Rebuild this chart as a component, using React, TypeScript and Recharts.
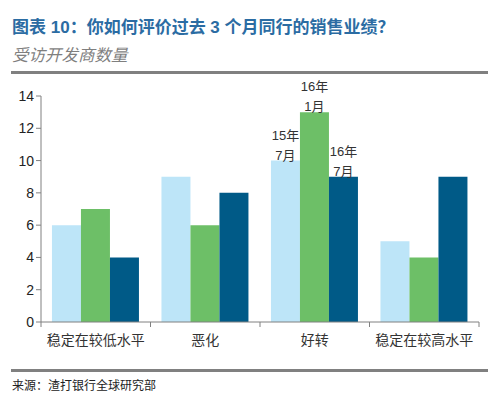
import React from 'react';
import { Bar, BarChart, LabelList, XAxis, YAxis } from 'recharts';

const categories = ['稳定在较低水平', '恶化', '好转', '稳定在较高水平'];
const seriesNames = ['15年7月', '16年1月', '16年7月'];
const jul15 = [6, 9, 10, 5];
const jan16 = [7, 6, 13, 4];
const jul16 = [4, 8, 9, 9];
const yTicks = [0, 2, 4, 6, 8, 10, 12, 14];
const labelledCategory = '好转';

const data = categories.map((name, i) => ({ name, s0: jul15[i], s1: jan16[i], s2: jul16[i] }));

const colors = ['#BDE5F8', '#6DBF67', '#005A87'];
const axisColor = '#808080';
const font = '"Liberation Sans", Arial, "Noto Sans CJK SC", sans-serif';

const XTick = (props: any) => {
  const { x, y, payload, index } = props;
  const half = payload.offset || 0;
  return (
    <g>
      <line x1={x - half} y1={y - 8} x2={x - half} y2={y - 3} stroke={axisColor} />
      {index === categories.length - 1 && (
        <line x1={x + half} y1={y - 8} x2={x + half} y2={y - 3} stroke={axisColor} />
      )}
      <text x={x} y={y + 15} textAnchor="middle" fontSize={14} fill="#333" fontFamily={font}>
        {payload.value}
      </text>
    </g>
  );
};

const makeLabel = (seriesIdx: number) => (props: any) => {
  const { x, y, width, index } = props;
  if (categories[index] !== labelledCategory) return null;
  const name = seriesNames[seriesIdx];
  const [yr, mo] = [name.slice(0, 3), name.slice(3)];
  const cx = x + width / 2;
  return (
    <text x={cx} textAnchor="middle" fontSize={13} fill="#333" fontFamily={font}>
      <tspan x={cx} y={y - 21}>{yr}</tspan>
      <tspan x={cx} y={y - 1}>{mo}</tspan>
    </text>
  );
};

const App: React.FC = () => (
  <div style={{ position: 'absolute', left: 0, top: 0, width: 495, height: 401, background: '#fff', fontFamily: font }}>
    <div style={{ position: 'absolute', left: 12, top: 13, fontSize: 17, fontWeight: 'bold', color: '#2B6CA3', whiteSpace: 'nowrap' }}>
      图表 10：你如何评价过去 3 个月同行的销售业绩？
    </div>
    <div style={{ position: 'absolute', left: 12, top: 42, fontSize: 16.5, fontStyle: 'italic', color: '#7F7F7F', whiteSpace: 'nowrap' }}>
      受访开发商数量
    </div>
    <div style={{ position: 'absolute', left: 11, top: 71, width: 477, height: 3, background: '#808080' }} />
    <div style={{ position: 'absolute', left: 0, top: 0 }}>
      <BarChart
        width={495}
        height={401}
        data={data}
        margin={{ top: 96, right: 16, left: 11, bottom: 49 }}
        barGap={0}
        barCategoryGap="10%"
      >
        <XAxis
          dataKey="name"
          stroke={axisColor}
          height={30}
          tickLine={false}
          tick={<XTick />}
          interval={0}
        />
        <YAxis
          width={30}
          domain={[0, 14]}
          ticks={yTicks}
          stroke={axisColor}
          tickSize={5}
          tick={{ fill: '#222', fontSize: 14, fontFamily: font }}
        />
        {['s0', 's1', 's2'].map((k, i) => (
          <Bar key={k} dataKey={k} name={seriesNames[i]} fill={colors[i]} isAnimationActive={false}>
            <LabelList dataKey={k} content={makeLabel(i)} />
          </Bar>
        ))}
      </BarChart>
    </div>
    <div style={{ position: 'absolute', left: 11, top: 369, width: 477, height: 3, background: '#808080' }} />
    <div style={{ position: 'absolute', left: 12, top: 376, fontSize: 12, color: '#222', whiteSpace: 'nowrap' }}>
      来源：渣打银行全球研究部
    </div>
  </div>
);

export default App;
